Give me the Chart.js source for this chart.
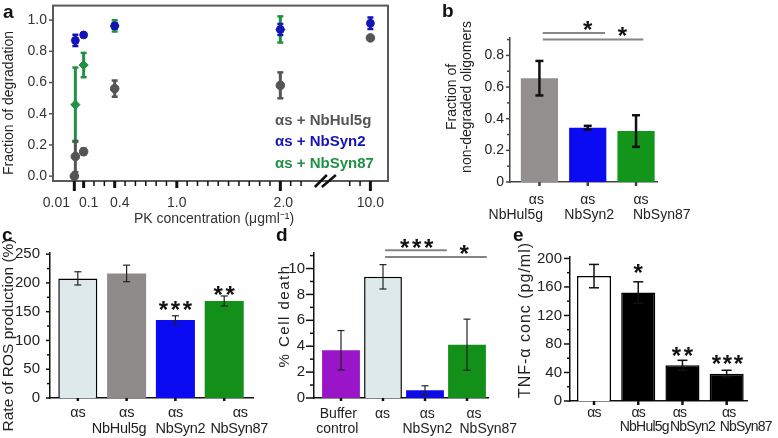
<!DOCTYPE html>
<html>
<head>
<meta charset="utf-8">
<script src="https://cdn.jsdelivr.net/npm/chart.js@4.4.1/dist/chart.umd.min.js"></script>
<style>
  body { margin: 0; background: #fff; width: 778px; height: 438px; overflow: hidden; position: relative; }
  .panel { position: absolute; }
</style>
</head>
<body>
<div class="panel" style="left:0;top:0;width:400px;height:232px"><canvas id="chartA"></canvas></div>
<div class="panel" style="left:400px;top:0;width:378px;height:232px"><canvas id="chartB"></canvas></div>
<div class="panel" style="left:0;top:226px;width:290px;height:212px"><canvas id="chartC"></canvas></div>
<div class="panel" style="left:270px;top:226px;width:270px;height:212px"><canvas id="chartD"></canvas></div>
<div class="panel" style="left:510px;top:226px;width:268px;height:212px"><canvas id="chartE"></canvas></div>
<script>
// ---- panel a: fraction of degradation vs PK concentration
const pkTickValues = [0.01, 0.1, 0.4, 1.0, 2.0, 10.0];
const pkTickLabels = ['0.01', '0.1', '0.4', '1.0', '2.0', '10.0'];
const hulConc = [0.01, 0.02, 0.1, 0.4, 2.0, 10.0];
const hulFrac = [0.0, 0.126, 0.157, 0.561, 0.582, 0.886];
const hulErr = [0.005, 0.1, 0.02, 0.052, 0.083, 0.008];
const syn2Conc = [0.02, 0.1, 0.4, 2.0, 10.0];
const syn2Frac = [0.87, 0.905, 0.963, 0.94, 0.98];
const syn2Err = [0.036, 0.006, 0.018, 0.035, 0.037];
const syn87Conc = [0.02, 0.1, 0.4, 2.0];
const syn87Frac = [0.458, 0.712, 0.963, 0.94];
const syn87Err = [0.238, 0.078, 0.036, 0.084];

// ---- panel b: non-degraded oligomers
const oligoLabels = [['αs', 'NbHul5g'], ['αs', 'NbSyn2'], ['αs', 'NbSyn87']];
const oligoValues = [0.656, 0.343, 0.322];
const oligoErr = [0.109, 0.012, 0.1];

// ---- panel c: ROS production
const rosLabels = [['αs', ''], ['αs', 'NbHul5g'], ['αs', 'NbSyn2'], ['αs', 'NbSyn87']];
const rosValues = [207.9, 216.5, 135.7, 168.6];
const rosErr = [11.5, 14.4, 7.2, 8.7];

// ---- panel d: cell death
const deathLabels = [['Buffer', 'control'], ['αs', ''], ['αs', 'NbSyn2'], ['αs', 'NbSyn87']];
const deathValues = [3.69, 9.36, 0.59, 4.12];
const deathErr = [1.52, 0.94, 0.35, 1.97];

// ---- panel e: TNF-alpha
const tnfLabels = [['αs', ''], ['αs', 'NbHul5g'], ['αs', 'NbSyn2'], ['αs', 'NbSyn87']];
const tnfValues = [175.2, 152.2, 50.1, 38.4];
const tnfErr = [16.4, 15, 7, 4.7];

const FONT = '"Liberation Sans", Arial, sans-serif';
const INK = '#222';
const GRAY = '#555555', BLUE = '#1414b4', GREEN = '#1f9044';

// axis break on panel a: everything past 3 is pulled left
const BREAK_FROM = 3, BREAK_SHIFT = 7.13;
function pkAxis(c) { return c > BREAK_FROM ? c - BREAK_SHIFT : c; }

function seg(ctx, x1, y1, x2, y2, w, c) {
  ctx.beginPath();
  ctx.lineWidth = w;
  ctx.strokeStyle = c;
  ctx.moveTo(x1, y1);
  ctx.lineTo(x2, y2);
  ctx.stroke();
}

function text(ctx, s, x, y, o) {
  ctx.save();
  ctx.font = o.font;
  ctx.fillStyle = o.color || INK;
  ctx.textAlign = o.align || 'center';
  ctx.textBaseline = o.base || 'alphabetic';
  ctx.letterSpacing = o.spacing || '0px';
  ctx.translate(x, y);
  if (o.rot) ctx.rotate(o.rot);
  ctx.fillText(s, 0, 0);
  ctx.restore();
}

function drawErrors(chart, cfg) {
  const ctx = chart.ctx, ys = chart.scales.y;
  (cfg.errors || []).forEach(e => {
    const meta = chart.getDatasetMeta(e.ds);
    const data = chart.data.datasets[e.ds].data;
    meta.data.forEach((el, i) => {
      const v = data[i].y, d = e.values[i];
      const y1 = ys.getPixelForValue(v + d), y2 = ys.getPixelForValue(v - d);
      seg(ctx, el.x, y1, el.x, y2, e.width, e.color);
      seg(ctx, el.x - e.cap, y1, el.x + e.cap, y1, e.capWidth, e.color);
      seg(ctx, el.x - e.cap, y2, el.x + e.cap, y2, e.capWidth, e.color);
    });
  });
}

function drawStars(ctx, n, cx, cy, size, pitch) {
  for (let k = 0; k < n; k++) {
    const x = cx + (k - (n - 1) / 2) * pitch;
    text(ctx, '*', x, cy + 0.58 * size, { font: 'bold ' + size + 'px ' + FONT, color: '#111' });
  }
}

// per-panel annotations: letters, titles, tick marks, labels, error bars, significance marks
function makeNotes(cfg) {
  return {
    id: 'notes',
    beforeDatasetsDraw(chart) {
      if (cfg.before) cfg.before(chart);
      if (cfg.errorsUnder) drawErrors(chart, cfg);
    },
    afterDatasetsDraw(chart) {
      if (!cfg.errorsUnder) drawErrors(chart, cfg);
    },
    afterDraw(chart) {
      const ctx = chart.ctx, xs = chart.scales.x, ys = chart.scales.y, a = chart.chartArea;
      ctx.save();
      text(ctx, cfg.letter.s, cfg.letter.x, cfg.letter.y, { font: 'bold 19px ' + FONT, align: 'left', color: '#111' });
      cfg.yTitle.forEach(t => text(ctx, t.s, t.x, t.y, {
        font: t.size + 'px ' + FONT, base: 'middle', rot: -Math.PI / 2, spacing: t.spacing
      }));
      ys.ticks.forEach(t => {
        const y = ys.getPixelForValue(t.value);
        const len = t.label === '' ? cfg.yMinor : cfg.yMajor;
        seg(ctx, a.left - len, y, a.left, y, cfg.tickWidth, cfg.axisColor);
      });
      if (cfg.cats) {
        cfg.cats.lines.forEach((lines, i) => {
          const x = xs.getPixelForValue(i);
          seg(ctx, x, a.bottom, x, a.bottom + cfg.cats.tick, 2.5, cfg.axisColor);
          lines.forEach((s, r) => {
            if (s) text(ctx, s, x + cfg.cats.dx[r][i], cfg.cats.rows[r], { font: cfg.cats.size + 'px ' + FONT, spacing: cfg.cats.spacing });
          });
        });
      }
      (cfg.brackets || []).forEach(b => {
        const y = ys.getPixelForValue(b.y);
        seg(ctx, xs.getPixelForValue(b.x1), y, xs.getPixelForValue(b.x2), y, 2, '#858585');
      });
      (cfg.stars || []).forEach(s => {
        drawStars(ctx, s.n, xs.getPixelForValue(s.x), ys.getPixelForValue(s.y), cfg.starSize, s.pitch || 12);
      });
      if (cfg.after) cfg.after(chart);
      ctx.restore();
    }
  };
}

// ---------------- panel a ----------------
const pkMinor = [];
for (let k = 2; k <= 22; k++) pkMinor.push(k / 10);
pkMinor.push(9.8, 9.9);
const pkLabelShift = [-18, 5, 5, 0, 3, 0];

new Chart(document.getElementById('chartA'), {
  type: 'scatter',
  data: {
    datasets: [
      { label: 'αs + NbHul5g', data: hulConc.map((c, i) => ({ x: pkAxis(c), y: hulFrac[i] })),
        backgroundColor: GRAY, borderColor: GRAY, pointRadius: 4.3, pointStyle: 'circle' },
      { label: 'αs + NbSyn2', data: syn2Conc.map((c, i) => ({ x: pkAxis(c), y: syn2Frac[i] })),
        backgroundColor: BLUE, borderColor: BLUE, pointRadius: 3.9, pointStyle: 'circle' },
      { label: 'αs + NbSyn87', data: syn87Conc.map((c, i) => ({ x: pkAxis(c), y: syn87Frac[i] })),
        backgroundColor: GREEN, borderColor: GREEN, pointRadius: 4.6, pointStyle: 'rectRot' }
    ]
  },
  options: {
    responsive: true, maintainAspectRatio: false, animation: false,
    layout: { padding: { top: 1, right: 12, left: 0, bottom: 0 } },
    plugins: { legend: { display: false }, tooltip: { enabled: false } },
    scales: {
      x: {
        type: 'linear', min: -0.196, max: 3.04,
        grid: { display: false, drawTicks: false }, border: { display: false }, ticks: { display: false },
        afterFit: s => { s.height = 51; s.paddingLeft = 0; s.paddingRight = 0; }
      },
      y: {
        min: -0.031, max: 1.093,
        grid: { display: false, drawTicks: false }, border: { display: false },
        afterBuildTicks: s => { s.ticks = [0, 0.2, 0.4, 0.6, 0.8, 1.0].map(v => ({ value: v })); },
        ticks: { autoSkip: false, padding: 6, color: '#333', font: { family: FONT, size: 14 }, callback: v => v.toFixed(1) },
        afterFit: s => { s.width = 53; s.paddingTop = 0; s.paddingBottom = 0; }
      }
    }
  },
  plugins: [makeNotes({
    letter: { s: 'a', x: 3, y: 18 },
    yTitle: [{ s: 'Fraction of degradation', x: 9, y: 103, size: 14 }],
    axisColor: '#555', yMajor: 4, yMinor: 4, tickWidth: 1.5,
    errorsUnder: true,
    errors: [
      { ds: 2, values: syn87Err, color: GREEN, width: 3, cap: 3, capWidth: 2.5 },
      { ds: 1, values: syn2Err, color: BLUE, width: 3, cap: 3, capWidth: 2.5 },
      { ds: 0, values: hulErr, color: GRAY, width: 3, cap: 3, capWidth: 2.5 }
    ],
    before(chart) {
      const ctx = chart.ctx, xs = chart.scales.x, a = chart.chartArea;
      ctx.save();
      ctx.strokeStyle = '#5a5a5a';
      ctx.lineWidth = 2;
      ctx.strokeRect(a.left, a.top, a.right - a.left, a.bottom - a.top);
      pkMinor.forEach(v => {
        const x = xs.getPixelForValue(pkAxis(v));
        seg(ctx, x, a.bottom, x, a.bottom + 5, 1.5, '#111');
      });
      pkTickValues.forEach(v => {
        const x = xs.getPixelForValue(pkAxis(v));
        const long = (v === 0.01 || v === 2.0 || v === 10.0);
        seg(ctx, x, a.bottom, x, a.bottom + (long ? 10 : 7), 3, '#111');
      });
      ctx.restore();
    },
    after(chart) {
      const ctx = chart.ctx, xs = chart.scales.x;
      pkTickValues.forEach((v, i) => {
        text(ctx, pkTickLabels[i], xs.getPixelForValue(pkAxis(v)) + pkLabelShift[i], 207,
          { font: '14px ' + FONT, color: '#333' });
      });
      text(ctx, 'PK concentration (μgml⁻¹)', 214, 223, { font: '14px ' + FONT, color: '#333' });
      // axis break marks
      const bx = xs.getPixelForValue(2.43);
      seg(ctx, bx - 10, 187, bx + 2, 175, 2.5, '#111');
      seg(ctx, bx - 3, 187, bx + 11, 175, 2.5, '#111');
      // legend
      chart.data.datasets.forEach((d, i) => {
        text(ctx, d.label, 275, [125, 146, 167.5][i], { font: 'bold 15px ' + FONT, align: 'left', color: d.backgroundColor });
      });
    }
  })]
});

// ---------------- bar panels ----------------
function barChart(id, p) {
  const ticks = [];
  for (let k = 0; k * p.minor <= p.yTop + 1e-9; k++) ticks.push(+(k * p.minor).toFixed(4));
  const isMajor = v => Math.abs(v / p.major - Math.round(v / p.major)) < 1e-6;
  return new Chart(document.getElementById(id), {
    type: 'bar',
    data: {
      datasets: [{
        data: p.values.map((v, i) => ({ x: i, y: v })),
        backgroundColor: p.colors,
        borderColor: '#000',
        borderWidth: p.borders,
        barPercentage: p.barPct,
        categoryPercentage: 1
      }]
    },
    options: {
      responsive: true, maintainAspectRatio: false, animation: false,
      layout: { padding: { top: p.area.top, right: p.area.right, left: 0, bottom: 0 } },
      plugins: { legend: { display: false }, tooltip: { enabled: false } },
      scales: {
        x: {
          type: 'linear', offset: false, min: p.xMin, max: p.xMax,
          grid: { display: false, drawTicks: false }, border: { color: p.axisColor, width: 1.5 },
          ticks: { display: false },
          afterFit: s => { s.height = p.area.xh; s.paddingLeft = 0; s.paddingRight = 0; }
        },
        y: {
          min: 0, max: p.yMax,
          grid: { display: false, drawTicks: false }, border: { color: p.axisColor, width: 1.5 },
          afterBuildTicks: s => { s.ticks = ticks.map(v => ({ value: v })); },
          ticks: {
            autoSkip: false, padding: p.tickPad, color: INK,
            font: { family: FONT, size: p.tickSize },
            callback: v => isMajor(v) ? p.fmt(v) : ''
          },
          afterFit: s => { s.width = p.area.left; s.paddingTop = 0; s.paddingBottom = 0; }
        }
      }
    },
    plugins: [makeNotes(Object.assign({ axisColor: p.axisColor, tickWidth: 1.5, starSize: 24 }, p.notes))]
  });
}

barChart('chartB', {
  values: oligoValues,
  colors: ['#938f8f', '#0b0bf2', '#13941a'], borders: [0, 0, 0], barPct: 0.77,
  xMin: -0.609, xMax: 2.434, yMax: 0.91, yTop: 0.9, minor: 0.1, major: 0.2,
  fmt: v => v === 0 ? '0' : v.toFixed(1),
  tickSize: 14, tickPad: 6, axisColor: '#444',
  area: { top: 38, right: 121, left: 110, xh: 50 },
  notes: {
    letter: { s: 'b', x: 42, y: 17 },
    yTitle: [{ s: 'Fraction of', x: 52, y: 97, size: 14 }, { s: 'non-degraded oligomers', x: 67, y: 97, size: 14 }],
    yMajor: 4, yMinor: 3,
    cats: { lines: oligoLabels, rows: [204, 218.5], size: 14, tick: 4, dx: [[-3, 0, 5], [-23.6, 1.5, 25.7]] },
    errors: [{ ds: 0, values: oligoErr, color: '#111', width: 2.5, cap: 4, capWidth: 2.5 }],
    brackets: [{ x1: 0.07, x2: 1.36, y: 0.942 }, { x1: 0.07, x2: 2.15, y: 0.9 }],
    stars: [{ n: 1, x: 1.0, y: 0.995 }, { n: 1, x: 1.72, y: 0.957 }]
  }
});

barChart('chartC', {
  values: rosValues,
  colors: ['#dde9ea', '#8f8b8b', '#0b0bf2', '#13901a'], borders: [1.5, 0, 0, 0], barPct: 0.8,
  xMin: -0.57, xMax: 3.59, yMax: 252, yTop: 250, minor: 25, major: 50,
  fmt: v => String(v),
  tickSize: 15, tickPad: 10, axisColor: '#111',
  area: { top: 27, right: 37, left: 50, xh: 40 },
  notes: {
    letter: { s: 'c', x: 2, y: 15 },
    yTitle: [{ s: 'Rate of ROS production (%)', x: 9, y: 109, size: 15.5 }],
    yMajor: 4, yMinor: 3,
    cats: { lines: rosLabels, rows: [191, 207], size: 14.5, spacing: '-0.3px', tick: 3, dx: [[0, 0, 0, 16], [0, -7.6, 5, 15]] },
    errors: [{ ds: 0, values: rosErr, color: '#222', width: 1.2, cap: 3.5, capWidth: 1.2 }],
    stars: [{ n: 3, x: 2, y: 164 }, { n: 2, x: 3, y: 189 }]
  }
});

barChart('chartD', {
  values: deathValues,
  colors: ['#9a14c8', '#dde9ea', '#0c0ce8', '#13901a'], borders: [0, 1.5, 0, 0], barPct: 0.9,
  xMin: -0.643, xMax: 3.5, yMax: 11.2, yTop: 11, minor: 1, major: 2,
  fmt: v => String(v),
  tickSize: 15, tickPad: 9, axisColor: '#111',
  area: { top: 27, right: 52, left: 44, xh: 40 },
  notes: {
    letter: { s: 'd', x: 6, y: 15 },
    yTitle: [{ s: '% Cell death', x: 15, y: 90, size: 15, spacing: '1.5px' }],
    yMajor: 8, yMinor: 4,
    cats: { lines: deathLabels, rows: [192.3, 207.3], size: 14, tick: 3, dx: [[-2.7, -0.5, 2.3, 7], [-3.7, 0, 2.3, 21.3]] },
    errors: [{ ds: 0, values: deathErr, color: '#222', width: 1.2, cap: 3.5, capWidth: 1.2 }],
    brackets: [{ x1: 1.05, x2: 2.52, y: 11.41 }, { x1: 1.05, x2: 3.47, y: 10.9 }],
    stars: [{ n: 3, x: 1.8, y: 12.03 }, { n: 1, x: 2.93, y: 11.6 }]
  }
});

barChart('chartE', {
  values: tnfValues,
  colors: ['#ffffff', '#000000', '#000000', '#000000'], borders: [1.5, 1.5, 1.5, 1.5], barPct: 0.77,
  xMin: -0.543, xMax: 3.46, yMax: 202, yTop: 200, minor: 20, major: 40,
  fmt: v => String(v),
  tickSize: 15, tickPad: 8, axisColor: '#111',
  area: { top: 31, right: 31, left: 60, xh: 37 },
  notes: {
    letter: { s: 'e', x: 3, y: 15 },
    yTitle: [{ s: 'TNF-α conc (pg/ml)', x: 16, y: 94, size: 16, spacing: '1px' }],
    yMajor: 6, yMinor: 3,
    cats: { lines: tnfLabels, rows: [190.7, 205], size: 14, spacing: '-0.8px', tick: 4, dx: [[0, 0, -3, 2], [0, 6, 10, 19]] },
    errors: [{ ds: 0, values: tnfErr, color: '#111', width: 1.5, cap: 5, capWidth: 1.5 }],
    stars: [{ n: 1, x: 1.0, y: 187.8 }, { n: 2, x: 2, y: 71.2 }, { n: 3, x: 3.02, y: 60, pitch: 11 }]
  }
});
</script>
</body>
</html>
